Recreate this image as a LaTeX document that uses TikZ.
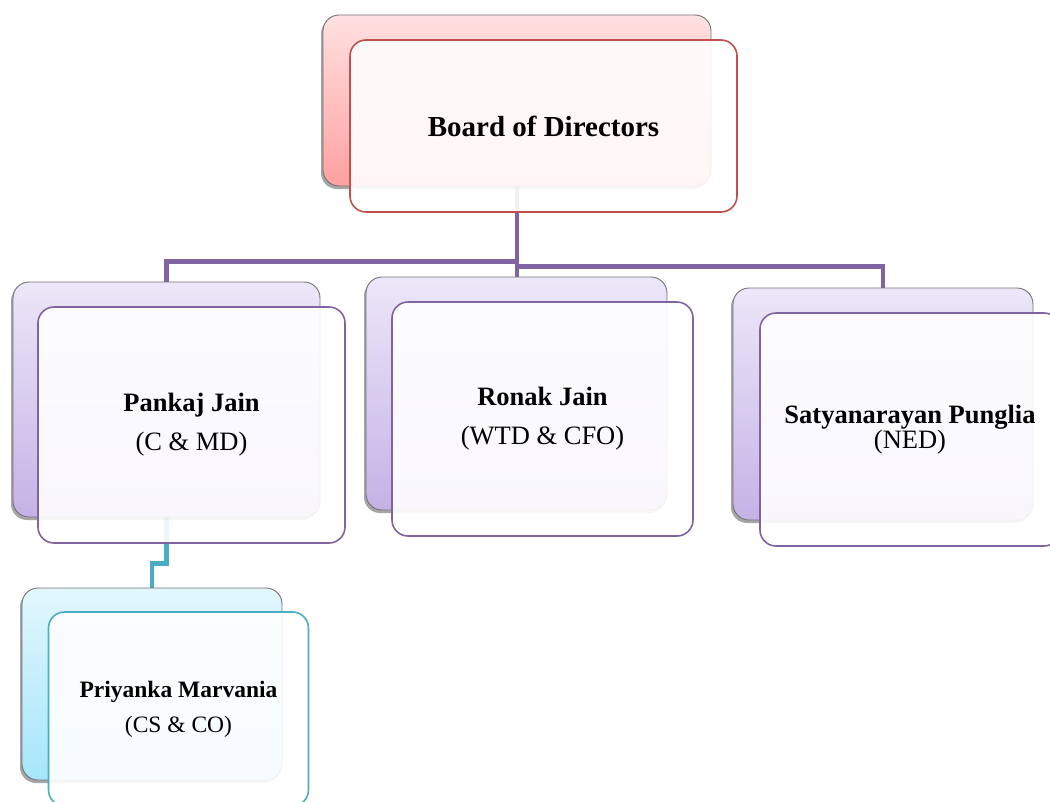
\documentclass[tikz,border=0pt]{standalone}
\usepackage{fontspec}
\setmainfont{Liberation Serif}
\usetikzlibrary{shadows,backgrounds}

\definecolor{redline}{HTML}{C0504D}
\definecolor{purpleline}{HTML}{8064A2}
\definecolor{tealline}{HTML}{4BACC6}
\definecolor{redtop}{HTML}{FFE1E1}
\definecolor{redbottom}{HTML}{FFA0A0}
\definecolor{purpletop}{HTML}{ECE7F8}
\definecolor{purplebottom}{HTML}{C5B2E6}
\definecolor{tealtop}{HTML}{E2F7FD}
\definecolor{tealbottom}{HTML}{A6E6FA}

\tikzset{
  backbox/.style={rectangle, rounded corners=16pt, draw=black!55, line width=0.9pt,
    inner sep=0pt,
    drop shadow={shadow xshift=-2pt, shadow yshift=-3pt, opacity=0.35, fill=black}},
  frontbox/.style={rectangle, rounded corners=16pt, line width=1.6pt, fill=white,
    fill opacity=0.9, text opacity=1, inner sep=0pt, align=center},
  redback/.style={backbox, top color=redtop, bottom color=redbottom},
  purpleback/.style={backbox, top color=purpletop, bottom color=purplebottom},
  tealback/.style={backbox, top color=tealtop, bottom color=tealbottom},
  redfront/.style={frontbox, draw=redline},
  purplefront/.style={frontbox, draw=purpleline},
  tealfront/.style={frontbox, draw=tealline},
  conn/.style={draw=purpleline, line width=4.5pt},
  tealconn/.style={draw=tealline, line width=4.5pt},
  titlefont/.style={font=\fontsize{29}{34}\selectfont\bfseries},
}

\begin{document}
\begin{tikzpicture}[x=1pt, y=-1pt]
\useasboundingbox (0,0) rectangle (1050,801);

% Board of Directors
\node[redback, minimum width=388pt, minimum height=171pt] (bodB) at (517,100.5) {};
\node[redfront, minimum width=387pt, minimum height=172pt, titlefont] (bod) at (543.5,126) {Board of Directors};

% Pankaj Jain
\node[purpleback, minimum width=307pt, minimum height=235pt] (pjB) at (166.5,399.5) {};
\node[purplefront, minimum width=307pt, minimum height=236pt,
      font=\fontsize{26.5}{39}\selectfont] (pj) at (191.5,425)
  {\textbf{Pankaj Jain}\\(C \& MD)};

% Ronak Jain
\node[purpleback, minimum width=301pt, minimum height=233pt] (rjB) at (516.5,393.5) {};
\node[purplefront, minimum width=301pt, minimum height=234pt,
      font=\fontsize{26.5}{39}\selectfont] (rj) at (542.5,419)
  {\textbf{Ronak Jain}\\(WTD \& CFO)};

% Satyanarayan Punglia
\node[purpleback, minimum width=300pt, minimum height=232pt] (spB) at (883,404) {};
\node[purplefront, minimum width=300pt, minimum height=233pt,
      font=\fontsize{26.5}{25}\selectfont] (sp) at (910,429.5)
  {\textbf{Satyanarayan Punglia}\\(NED)};

% Priyanka Marvania
\node[tealback, minimum width=260pt, minimum height=192pt] (pmB) at (152,684) {};
\node[tealfront, minimum width=260pt, minimum height=194pt,
      font=\fontsize{23.5}{35}\selectfont] (pm) at (178.5,709)
  {\textbf{Priyanka Marvania}\\(CS \& CO)};

% Reporting lines, behind the boxes
\begin{scope}[on background layer]
  \draw[conn] (bodB.south) -- ++(0,75) -| (pjB.north);
  \draw[conn] (bodB.south) -- (bodB.south |- rjB.north);
  \draw[conn] (bodB.south) -- ++(0,80) -| (spB.north);
  \draw[tealconn] (pjB.south) -- ++(0,46) -| (pmB.north);
\end{scope}
\end{tikzpicture}
\end{document}
